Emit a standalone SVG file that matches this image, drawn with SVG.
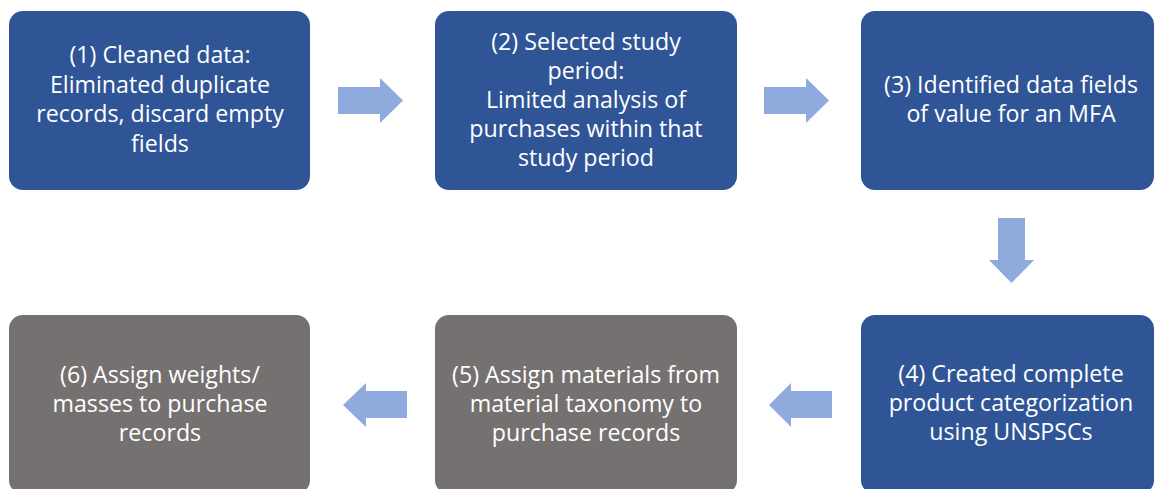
<svg xmlns="http://www.w3.org/2000/svg" width="1154" height="489" viewBox="0 0 1154 489">
  <style>
    .step-blue { fill: #2F5597; }
    .step-grey { fill: #767171; }
    .label { fill: #FFFFFF; font-family: "Open Sans", "Liberation Sans", sans-serif; font-size: 23.2px; text-anchor: middle; }
    .arrow { fill: #8FAADC; }
  </style>
  <rect width="1154" height="489" fill="#FFFFFF"/>

  <!-- Process steps -->
  <g id="step1">
    <rect class="step-blue" x="9" y="11" width="301" height="179" rx="14"/>
    <text class="label" x="160" y="63">(1) Cleaned data:</text>
    <text class="label" x="160" y="93">Eliminated duplicate</text>
    <text class="label" x="160" y="122">records, discard empty</text>
    <text class="label" x="160" y="152">fields</text>
  </g>
  <g id="step2">
    <rect class="step-blue" x="435" y="11" width="302" height="179" rx="14"/>
    <text class="label" x="586" y="50">(2) Selected study</text>
    <text class="label" x="586" y="79">period:</text>
    <text class="label" x="586" y="108">Limited analysis of</text>
    <text class="label" x="586" y="137">purchases within that</text>
    <text class="label" x="586" y="166">study period</text>
  </g>
  <g id="step3">
    <rect class="step-blue" x="861" y="11" width="293" height="179" rx="14"/>
    <text class="label" x="1011" y="93">(3) Identified data fields</text>
    <text class="label" x="1011" y="122">of value for an MFA</text>
  </g>
  <g id="step4">
    <rect class="step-blue" x="861" y="315" width="293" height="179" rx="14"/>
    <text class="label" x="1011" y="382">(4) Created complete</text>
    <text class="label" x="1011" y="411">product categorization</text>
    <text class="label" x="1011" y="440">using UNSPSCs</text>
  </g>
  <g id="step5">
    <rect class="step-grey" x="435" y="315" width="302" height="179" rx="14"/>
    <text class="label" x="586" y="383">(5) Assign materials from</text>
    <text class="label" x="586" y="412">material taxonomy to</text>
    <text class="label" x="586" y="441">purchase records</text>
  </g>
  <g id="step6">
    <rect class="step-grey" x="9" y="315" width="301" height="179" rx="14"/>
    <text class="label" x="160" y="383">(6) Assign weights/</text>
    <text class="label" x="160" y="412">masses to purchase</text>
    <text class="label" x="160" y="441">records</text>
  </g>

  <!-- Block arrows between steps -->
  <g id="connectors">
    <path class="arrow" d="M338,87 H380 V78 L403,100.5 L380,123 V114 H338 Z"/>
    <path class="arrow" d="M764,87 H806 V78 L829,100.5 L806,123 V114 H764 Z"/>
    <path class="arrow" d="M998,218 H1025 V260 H1034 L1011.5,283 L989,260 H998 Z"/>
    <path class="arrow" d="M832,391 H791 V383 L769,405 L791,427 V418 H832 Z"/>
    <path class="arrow" d="M407,391 H366 V383 L343,405 L366,427 V418 H407 Z"/>
  </g>
</svg>
